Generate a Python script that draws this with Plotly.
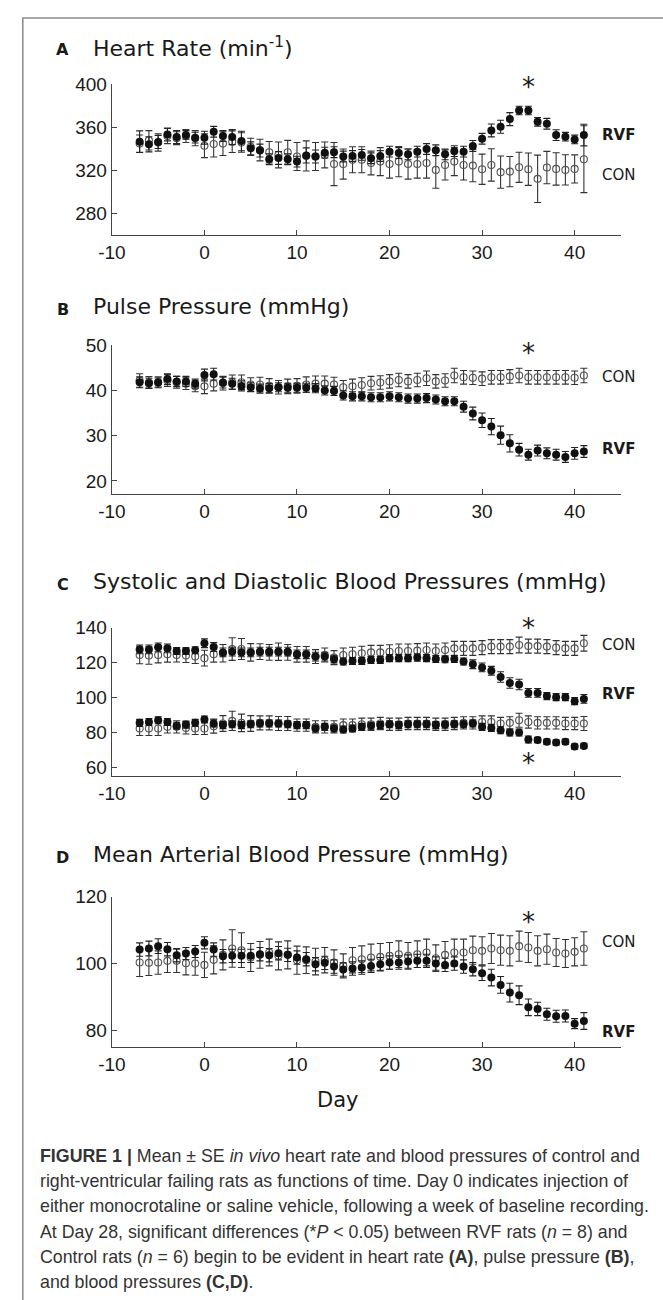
import plotly.graph_objects as go

# Study days (day 0 = injection)
days = list(range(-7, 42))

# A: heart rate (min^-1)
hr_con = [345, 348, 346, 352, 350, 352, 350, 343, 344.6, 345, 346.8, 346, 342, 339, 337, 334.5,
          337, 333, 333.5, 333, 334.5, 326, 326, 330, 330, 327, 328.3, 326, 328.3, 326, 326, 327,
          320.6, 325.2, 328.3, 325.2, 324.6, 321.2, 325.2, 318.5, 319, 323, 321.2, 312.3, 322.8,
          321.5, 320.6, 321.5, 330.5]
hr_con_se = [8, 9, 8, 7, 6, 6, 7, 11, 12, 11, 10, 9, 8, 10, 10, 12, 11, 13, 14, 13, 12, 20, 14, 12,
             12, 11, 13, 13, 14, 14, 13, 14, 17, 14, 13, 14, 15, 14, 15, 15, 14, 14, 15, 22, 15, 15,
             14, 13, 31]
hr_rvf = [346.8, 344.3, 346.5, 353.5, 351, 353, 350.5, 350.5, 356, 352, 351, 347.4, 340.6, 338.5,
          330.5, 331.7, 330.5, 328.3, 334, 333, 336.6, 337, 333, 333.5, 334.5, 331.4, 333.5, 337.5,
          336.3, 335, 337.5, 340, 338.8, 335, 338, 337.5, 342.8, 349.5, 357.2, 360.6, 367.7, 375.7,
          375.7, 365.2, 363.4, 352.9, 351.4, 348.9, 352.9]
hr_rvf_se = [10, 7, 6, 6, 6, 4, 5, 6, 5, 5, 7, 9, 6, 6, 5, 6, 5, 5, 7, 6, 5, 5, 5, 5, 5, 5, 5, 5, 5,
             5, 5, 5, 5, 5, 5, 5, 5, 5, 6, 6, 6, 4, 4, 4, 5, 5, 4, 4, 10]

# B: pulse pressure (mmHg)
pp_con = [42.2, 41.75, 41.8, 42.2, 41.8, 41.5, 40.9, 40.9, 41.5, 41.6, 41.8, 41.8, 41.3, 41.3, 41,
          40.7, 40.9, 41, 41.3, 41.5, 41.5, 41.3, 40.7, 40.9, 41.2, 41.6, 41.75, 42, 42.3, 42, 42.3,
          42.7, 42, 42.2, 43.3, 42.9, 42.8, 42.6, 42.9, 42.9, 43.1, 43.3, 42.9, 42.9, 42.9, 42.9,
          42.9, 42.8, 43.3]
pp_con_se = [1.5, 1.3, 1.2, 1.3, 1.3, 1.3, 1.2, 1.6, 1.6, 1.5, 1.6, 1.6, 1.5, 1.6, 1.6, 1.5, 1.6,
             1.6, 1.7, 1.7, 1.7, 1.6, 1.5, 1.6, 1.6, 1.5, 1.5, 1.5, 1.5, 1.5, 1.5, 1.6, 1.5, 1.5, 1.6,
             1.5, 1.5, 1.5, 1.5, 1.5, 1.5, 1.6, 1.5, 1.5, 1.5, 1.5, 1.5, 1.5, 1.6]
pp_rvf = [41.8, 41.6, 41.75, 42.5, 42, 42, 41.5, 43.4, 43.6, 41.75, 41.5, 41, 40.7, 40.4, 40.5, 40.7,
          40.6, 40.6, 40.6, 40.5, 40, 39.9, 38.9, 38.7, 38.7, 38.5, 38.5, 38.7, 38.5, 38.2, 38.2,
          38.3, 38, 37.6, 37.6, 36.4, 34.9, 33.4, 32, 30.1, 28.3, 26.9, 25.8, 26.7, 26.1, 25.8, 25.3,
          26.1, 26.5]
pp_rvf_se = [1.2, 1.1, 1.0, 1.2, 1.1, 1.1, 1.0, 1.3, 1.3, 1.2, 1.2, 1.1, 1.0, 1.0, 1.0, 1.0, 1.0,
             1.0, 1.0, 1.0, 1.0, 1.0, 1.0, 1.0, 1.0, 1.0, 1.0, 1.0, 1.0, 1.0, 1.0, 1.0, 1.0, 1.0, 1.0,
             1.2, 1.4, 1.6, 1.8, 2.0, 1.9, 1.4, 1.2, 1.2, 1.2, 1.2, 1.2, 1.3, 1.3]

# C: systolic (upper) and diastolic (lower) blood pressure (mmHg)
sbp_con = [124.3, 124, 124.3, 124.7, 124.3, 124, 123.4, 122.5, 124.7, 125.3, 127.7, 127.7, 125.8,
           126.2, 125.8, 126.2, 125.8, 124.7, 124.7, 123.4, 124.3, 122.8, 124.3, 124.7, 125.3,
           125.8, 125.8, 126.2, 126.6, 126.6, 126.8, 127.2, 126.6, 127.2, 128.1, 128.1, 128.1,
           128.5, 129.1, 129.1, 129.1, 130, 129.4, 129.4, 129.1, 128.5, 128.1, 128.1, 131]
sbp_con_se = [5, 5, 4.5, 4.5, 4, 4, 4, 4.5, 4.5, 5, 6.5, 6, 5, 4.5, 4.5, 5, 4.5, 4.5, 4.5, 4, 4, 4,
              4, 4, 4, 4, 4, 4, 4, 4, 4, 4, 4, 4, 4, 4, 4, 4, 4, 4, 4, 4.5, 4, 4, 4, 4, 4, 4, 4.5]
sbp_rvf = [127.5, 127.5, 128.7, 128.1, 126.6, 126.6, 127, 131, 128.9, 125.8, 126.2, 125.8, 125.8,
           126.2, 126.2, 126.2, 126.2, 124.7, 124.7, 123.4, 123.4, 121.8, 120.6, 120.9, 120.9,
           121.5, 121.5, 122.5, 122.5, 122.5, 122.8, 122.5, 122, 121.9, 122, 120.6, 119, 117.2,
           115.3, 111.7, 108.3, 107.4, 102.6, 102.6, 100.8, 100.2, 100.2, 97.9, 99.2]
sbp_rvf_se = [2.5, 2.5, 2.5, 2.5, 2, 2, 2, 2.5, 2.5, 2.5, 2.5, 2.5, 2.5, 2.5, 2.5, 2.5, 2.5, 2.5,
              2.5, 2.5, 2.5, 2, 2, 2, 2, 2, 2, 2, 2, 2, 2, 2, 2, 2, 2, 2, 2.5, 2.5, 2.5, 3, 3, 3, 2.5,
              2.5, 2, 2, 2, 2, 2.5]
dbp_con = [82.3, 82.3, 82.3, 83.2, 83.2, 82.6, 82.3, 82.3, 83.6, 85.1, 86.6, 85.5, 85.1, 85.5, 85.5,
           85.1, 85.1, 84.2, 84.2, 83.2, 83.2, 83.2, 84.2, 84.2, 84.7, 84.7, 85.1, 84.7, 84.7, 85.1,
           85.1, 85.1, 84.7, 84.7, 85.1, 85.5, 85.5, 86, 86, 85.1, 85.5, 87, 86, 85.5, 85.5, 85.5,
           85.1, 85.1, 85.1]
dbp_con_se = [4, 4, 4, 3.5, 3.5, 3.5, 3.5, 3.5, 4, 4.5, 5.5, 5, 4.5, 4, 4, 4, 4, 3.5, 3.5, 3.5, 3.5,
              3.5, 3.5, 3.5, 3.5, 3.5, 3.5, 3.5, 3.5, 3.5, 3.5, 3.5, 3.5, 3.5, 3.5, 3.5, 3.5, 3.5,
              3.5, 3.5, 3.5, 4, 3.5, 3.5, 3.5, 3.5, 3.5, 3.5, 4]
dbp_rvf = [85.5, 86, 87, 86, 83.8, 84.5, 85.5, 87.4, 85.1, 84.2, 84.7, 84.2, 84.7, 85.1, 85.1, 85.1,
           84.7, 84.2, 84.2, 82.3, 83.2, 82.3, 81.7, 82.3, 83.2, 83.8, 84.2, 84.7, 84.2, 84.7, 84.7,
           84.7, 84.2, 84.5, 84.7, 84.7, 85.1, 83.2, 82.6, 81.3, 80, 80, 76, 75.7, 74.7, 74.2, 74.7,
           71.9, 72.3]
dbp_rvf_se = [2, 2, 2, 2, 2, 2, 2, 2, 2, 2, 2, 2, 2, 2, 2, 2, 2, 2, 2, 2, 2, 2, 2, 2, 2, 2, 2, 2, 2,
              2, 2, 2, 2, 2, 2, 2, 2, 2, 2, 2, 2, 2, 2, 1.5, 1.5, 1.5, 1.5, 1.5, 1.5]

# D: mean arterial blood pressure (mmHg)
map_con = [100.3, 100.2, 100.3, 100.8, 100.8, 100.1, 100, 99.6, 101.1, 102.6, 104.5, 104, 101.8,
           102.6, 103.3, 102.3, 102.6, 101, 101, 100.6, 101, 100.3, 99.3, 101, 101.3, 101.8, 102,
           102.3, 102.8, 102.3, 102.8, 103.3, 101.6, 102.6, 103.3, 103.3, 104, 103.8, 104.5, 104,
           103.8, 105.2, 104.8, 103.8, 104.3, 103.3, 103, 103.5, 104.5]
map_con_se = [4.2, 3.8, 3.5, 3.5, 3.5, 3.5, 3.5, 3.8, 4.2, 4.5, 5.6, 5.2, 4.2, 4, 4, 4.2, 4.2, 4.2,
              4, 4, 3.8, 3.8, 3.6, 3.8, 4, 4, 4, 4, 4, 4, 4, 4, 4, 4, 4, 4, 4.2, 4.2, 4.5, 4.5, 4.5,
              4.5, 4.5, 4.5, 4.5, 4.2, 4.2, 4.2, 5]
map_rvf = [104.2, 104.5, 105.2, 104.3, 102.5, 103, 103.6, 106.2, 104.2, 102.2, 102.3, 102.3, 102.3,
           102.8, 102.5, 103.1, 102.6, 101.8, 101.3, 99.8, 100.2, 99.1, 98.2, 98.5, 98.8, 99.3,
           99.8, 100.3, 100.3, 100.6, 100.8, 100.8, 100, 99.6, 100, 99.1, 98.3, 97.1, 95.8, 93.6,
           91.3, 90.5, 86.9, 86.4, 84.8, 84.2, 84.3, 82, 82.8]
map_rvf_se = [2, 2.2, 2.2, 2, 2, 1.8, 1.8, 1.8, 2, 2, 2, 2, 2, 2, 2, 2, 2, 2, 2, 2, 2, 2, 2, 2, 2,
              2, 2, 2, 2, 2, 2, 2, 2, 2, 2, 2, 2, 2.2, 2.5, 2.5, 2.8, 2.8, 2.5, 2, 1.8, 1.8, 1.8,
              1.5, 2.5]

x_ticks = [-10, 0, 10, 20, 30, 40]
x_tick_text = ["-10", "0", "10", "20", "30", "40"]

W, H = 663, 1300
PLOT_LEFT, PLOT_RIGHT = 100, 620

def fx(p):
    return p / W

def fy(p):
    return 1 - p / H

TICK_FONT = dict(family="Liberation Sans, Arial, sans-serif", size=19, color="#1a1a1a")
TITLE_FONT = dict(family="DejaVu Sans, Verdana, sans-serif", size=22, color="#1a1a1a")
LABEL_FONT = dict(family="DejaVu Sans, Verdana, sans-serif", size=15, color="#1a1a1a")
AXIS_COLOR = "#444444"

panels = [
    dict(letter="A", title="Heart Rate (min<sup>-1</sup>)", title_y=37, top=75, bottom=227.3,
         yrange=[260, 400], yticks=[280, 320, 360, 400],
         pairs=[(hr_con, hr_con_se, hr_rvf, hr_rvf_se)],
         stars=[403.3], con_y=315.7, rvf_y=352.7),
    dict(letter="B", title="Pulse Pressure (mmHg)", title_y=299, top=338.3, bottom=489,
         yrange=[17, 50], yticks=[20, 30, 40, 50],
         pairs=[(pp_con, pp_con_se, pp_rvf, pp_rvf_se)],
         stars=[49.5], con_y=42.9, rvf_y=27.1),
    dict(letter="C", title="Systolic and Diastolic Blood Pressures (mmHg)", title_y=577,
         top=623.3, bottom=773.3, yrange=[55, 140], yticks=[60, 80, 100, 120, 140],
         pairs=[(sbp_con, sbp_con_se, sbp_rvf, sbp_rvf_se),
                (dbp_con, dbp_con_se, dbp_rvf, dbp_rvf_se)],
         stars=[143, 66.2], con_y=130, rvf_y=102.2),
    dict(letter="D", title="Mean Arterial Blood Pressure (mmHg)", title_y=852, top=895,
         bottom=1046.7, yrange=[75, 120], yticks=[80, 100, 120],
         pairs=[(map_con, map_con_se, map_rvf, map_rvf_se)],
         stars=[114.1], con_y=106.5, rvf_y=79.6),
]

fig = go.Figure()
layout = dict(
    width=W, height=H, margin=dict(l=0, r=0, t=0, b=0),
    paper_bgcolor="white", plot_bgcolor="white", showlegend=False,
)
annotations = []

for i, p in enumerate(panels):
    n = "" if i == 0 else str(i + 1)
    xa, ya = "x" + n, "y" + n
    y0, y1 = p["yrange"]
    for con, con_se, rvf, rvf_se in p["pairs"]:
        fig.add_trace(go.Scatter(
            x=days, y=con, mode="markers", xaxis=xa, yaxis=ya, cliponaxis=False,
            marker=dict(symbol="circle-open", size=7, color="#555555", line=dict(width=1.1)),
            error_y=dict(type="data", array=con_se, color="#333333", thickness=1.1, width=3.5),
        ))
        fig.add_trace(go.Scatter(
            x=days, y=rvf, mode="markers", xaxis=xa, yaxis=ya, cliponaxis=False,
            marker=dict(symbol="circle", size=8, color="#111111"),
            error_y=dict(type="data", array=rvf_se, color="#222222", thickness=1.1, width=3.5),
        ))
    layout["xaxis" + n] = dict(
        domain=[fx(PLOT_LEFT), fx(PLOT_RIGHT)], range=[-10, 45], anchor=ya,
        showline=True, linecolor=AXIS_COLOR, linewidth=1.3, showgrid=False, zeroline=False,
        ticks="inside", ticklen=5, tickcolor=AXIS_COLOR, tickwidth=1.2,
        tickmode="array", tickvals=x_ticks, ticktext=x_tick_text, tickfont=TICK_FONT,
    )
    layout["yaxis" + n] = dict(
        domain=[fy(p["bottom"]), fy(p["top"])], range=p["yrange"], anchor=xa,
        showline=True, linecolor=AXIS_COLOR, linewidth=1.3, showgrid=False, zeroline=False,
        ticks="inside", ticklen=5, tickcolor=AXIS_COLOR, tickwidth=1.2,
        tickmode="array", tickvals=p["yticks"], ticktext=[str(v) for v in p["yticks"]],
        tickfont=TICK_FONT,
    )
    # panel letter and title
    annotations.append(dict(
        text="<b>" + p["letter"] + "</b>", xref="paper", yref="paper", x=fx(50),
        y=fy(p["title_y"] + 3), xanchor="center", yanchor="middle", showarrow=False,
        font=dict(family="DejaVu Sans, Verdana, sans-serif", size=16, color="#1a1a1a"),
    ))
    annotations.append(dict(
        text=p["title"], xref="paper", yref="paper", x=fx(79), y=fy(p["title_y"]),
        xanchor="left", yanchor="middle", showarrow=False, font=TITLE_FONT,
    ))
    # group labels
    annotations.append(dict(
        text="CON", xref=xa, yref=ya, x=42.7, y=p["con_y"], xanchor="left", yanchor="middle",
        showarrow=False, font=LABEL_FONT,
    ))
    annotations.append(dict(
        text="<b>RVF</b>", xref=xa, yref=ya, x=42.7, y=p["rvf_y"], xanchor="left",
        yanchor="middle", showarrow=False, font=LABEL_FONT,
    ))
    # significance markers at day 35 (axis-domain units so they may sit outside the range)
    for s in p["stars"]:
        annotations.append(dict(
            text="*", xref=xa, yref=ya + " domain", x=35, y=(s - y0) / (y1 - y0),
            xanchor="center", yanchor="middle", yshift=-6, showarrow=False,
            font=dict(family="DejaVu Sans, sans-serif", size=26, color="#1a1a1a"),
        ))

# x-axis title under the last panel
annotations.append(dict(
    text="Day", xref="paper", yref="paper", x=fx(330), y=fy(1100), xanchor="center",
    yanchor="middle", showarrow=False,
    font=dict(family="DejaVu Sans, Verdana, sans-serif", size=21, color="#1a1a1a"),
))

caption_lines = [
    "<b>FIGURE 1 |</b> Mean ± SE <i>in vivo</i> heart rate and blood pressures of control and",
    "right-ventricular failing rats as functions of time. Day 0 indicates injection of",
    "either monocrotaline or saline vehicle, following a week of baseline recording.",
    "At Day 28, significant differences (*<i>P</i> &lt; 0.05) between RVF rats (<i>n</i> = 8) and",
    "Control rats (<i>n</i> = 6) begin to be evident in heart rate <b>(A)</b>, pulse pressure <b>(B)</b>,",
    "and blood pressures <b>(C,D)</b>.",
]
for k, line in enumerate(caption_lines):
    annotations.append(dict(
        text=line, xref="paper", yref="paper", x=fx(25), y=fy(1157 + 25.3 * k),
        xanchor="left", yanchor="middle", showarrow=False,
        font=dict(family="Liberation Sans, Arial, sans-serif", size=17.8, color="#333333"),
    ))

layout["annotations"] = annotations
layout["shapes"] = [dict(
    type="rect", xref="paper", yref="paper", x0=fx(9), x1=1.05, y0=-0.05, y1=fy(8),
    line=dict(color="#8a8a8a", width=1.5), fillcolor="rgba(0,0,0,0)", layer="below",
)]
fig.update_layout(**layout)
fig.write_html(
    "out.html",
    post_script="document.body.style.margin='0';document.body.style.padding='0';"
                "document.documentElement.style.overflow='hidden';",
)
